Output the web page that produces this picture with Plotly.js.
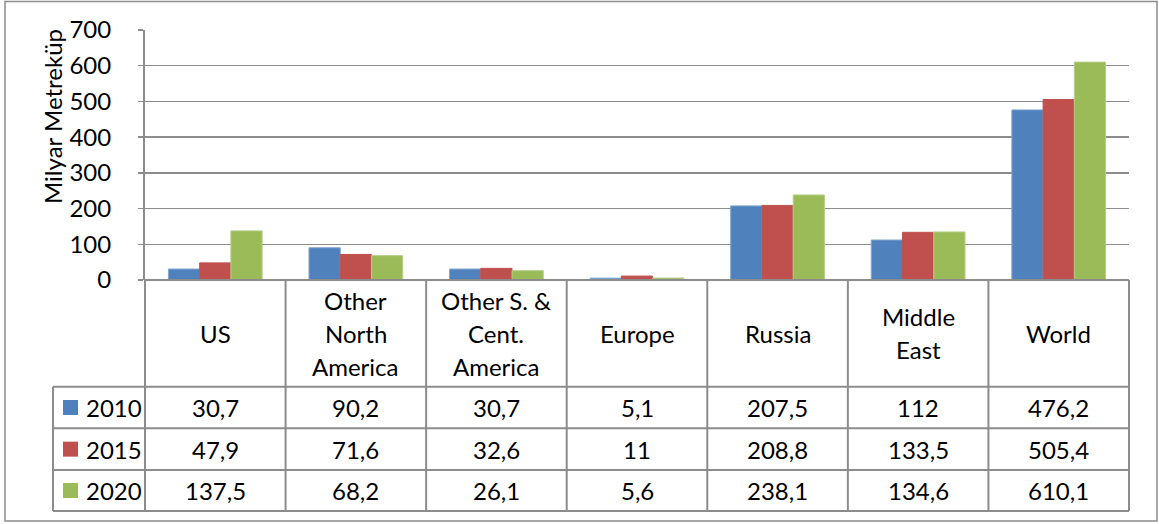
<!DOCTYPE html>
<html>
<head>
<meta charset="utf-8">
<script src="https://cdn.plot.ly/plotly-3.0.1.min.js"></script>
<style>html,body{margin:0;padding:0;background:#fff;}#chart{width:1159px;height:524px;}</style>
</head>
<body>
<div id="chart"></div>
<script>
// ---- data ----
const categories = ["US", "Other<br>North<br>America", "Other S. &<br>Cent.<br>America", "Europe", "Russia", "Middle<br>East", "World"];
const years = ["2010", "2015", "2020"];
const v2010 = [30.7, 90.2, 30.7, 5.1, 207.5, 112, 476.2];
const v2015 = [47.9, 71.6, 32.6, 11, 208.8, 133.5, 505.4];
const v2020 = [137.5, 68.2, 26.1, 5.6, 238.1, 134.6, 610.1];
const yTicks = [0, 100, 200, 300, 400, 500, 600, 700];
const yTitle = "Milyar Metreküp";

// ---- styling / layout ----
const series = [v2010, v2015, v2020];
const colors = ["#4F81BD", "#C0504D", "#9BBB59"];
const edge = ["#7FA3D0", "#C0504D", "#B5CE85"];
const FONT = "Lato, 'Noto Sans', sans-serif";
const FS = 24;
const W = 1159, Hh = 524;
const L = 145, R = 1129, T = 30, B = 280;
const PW = R - L, PH = B - T;
const px = p => (p - L) / PW;
const py = p => (B - p) / PH;
const gray = "#8C8C8C";

const traces = series.map((vals, i) => ({
  type: "bar",
  name: years[i],
  x: categories,
  y: vals,
  marker: { color: colors[i], line: { color: edge[i], width: 1 } },
  hoverinfo: "x+y"
}));

const shapes = [];
const annotations = [];
const line = (x0, y0, x1, y1, w) => shapes.push({
  type: "line", xref: "paper", yref: "paper",
  x0: px(x0), y0: py(y0), x1: px(x1), y1: py(y1),
  line: { color: gray, width: w || 2 }
});

// table geometry (pixels)
const catTop = B, catBot = 386.7;
const rowEdges = [386.7, 428.3, 470, 511];
const legLeft = 53;
const colW = PW / categories.length;

// horizontal lines
line(L, catTop, R, catTop, 2);
rowEdges.forEach(r => line(legLeft, r, R, r, 2));
// vertical lines
for (let i = 0; i <= categories.length; i++) {
  const xx = L + i * colW;
  line(xx, catTop, xx, rowEdges[rowEdges.length - 1], 2);
}
line(legLeft, rowEdges[0], legLeft, rowEdges[rowEdges.length - 1], 2);

// outer chart border
shapes.push({
  type: "rect", xref: "paper", yref: "paper",
  x0: px(5), y0: py(1.5), x1: px(1157), y1: py(521),
  line: { color: "#8C8C8C", width: 1.5 }, fillcolor: "rgba(0,0,0,0)", layer: "below"
});

// category labels
const catMid = (catTop + catBot) / 2;
const lh = 33;
categories.forEach((c, ci) => {
  const parts = c.split("<br>");
  parts.forEach((t, k) => {
    annotations.push({
      xref: "x", yref: "paper", x: ci, y: py(catMid + (k - (parts.length - 1) / 2) * lh),
      text: t, showarrow: false, xanchor: "center", yanchor: "middle",
      font: { family: FONT, size: FS, color: "#000" }
    });
  });
});

// data rows
const fmt = v => String(v).replace(".", ",");
series.forEach((vals, si) => {
  const mid = (rowEdges[si] + rowEdges[si + 1]) / 2;
  // legend swatch
  shapes.push({
    type: "rect", xref: "paper", yref: "paper",
    x0: px(63), x1: px(78), y0: py(mid - 7.5), y1: py(mid + 7.5),
    fillcolor: colors[si], line: { width: 0 }
  });
  annotations.push({
    xref: "paper", yref: "paper", x: px(84), y: py(mid), text: years[si],
    showarrow: false, xanchor: "left", yanchor: "middle",
    font: { family: FONT, size: FS, color: "#000" }
  });
  vals.forEach((v, ci) => {
    annotations.push({
      xref: "x", yref: "paper", x: ci, y: py(mid), text: fmt(v),
      showarrow: false, xanchor: "center", yanchor: "middle",
      font: { family: FONT, size: FS, color: "#000" }
    });
  });
});

// y axis title
annotations.push({
  xref: "paper", yref: "paper", x: px(52), y: py(117), text: yTitle,
  textangle: -90, showarrow: false, xanchor: "center", yanchor: "middle",
  font: { family: FONT, size: 24, color: "#000" }
});

const layout = {
  width: W, height: Hh,
  margin: { l: L, r: W - R, t: T, b: Hh - B, pad: 0 },
  paper_bgcolor: "#fff", plot_bgcolor: "#fff",
  showlegend: false,
  barmode: "group",
  bargap: 1 / 3,
  bargroupgap: 0,
  font: { family: FONT, size: FS, color: "#000" },
  xaxis: {
    type: "category", range: [-0.5, categories.length - 0.5],
    showticklabels: false, showgrid: false, zeroline: false, showline: false, ticks: "", fixedrange: true
  },
  yaxis: {
    range: [0, 700], tickvals: yTicks, ticktext: yTicks.map(String),
    showgrid: true, gridcolor: gray, gridwidth: 1.5,
    zeroline: false, showline: true, linecolor: gray, linewidth: 2,
    ticks: "outside", ticklen: 5, tickcolor: gray, tickwidth: 1.5,
    ticklabelstandoff: 22,
    tickfont: { family: FONT, size: FS, color: "#000" }, fixedrange: true
  },
  shapes: shapes,
  annotations: annotations
};

Plotly.newPlot("chart", traces, layout, { staticPlot: true, displayModeBar: false });
</script>
</body>
</html>
